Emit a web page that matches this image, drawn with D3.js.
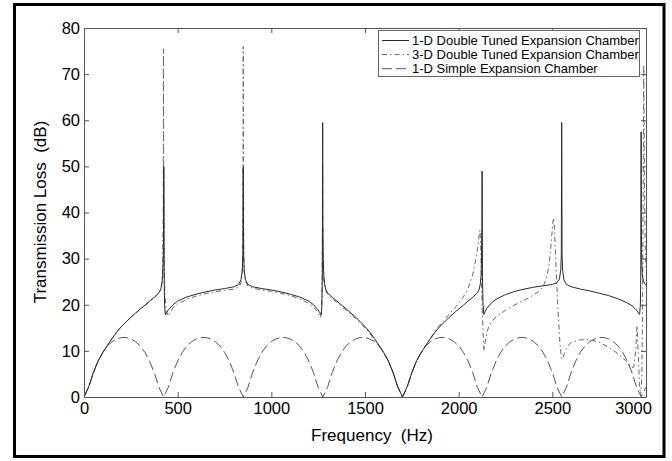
<!DOCTYPE html>
<html>
<head>
<meta charset="utf-8">
<script src="https://cdn.jsdelivr.net/npm/d3@7"></script>
<style>
  body { margin: 0; background: #fff; }
  svg { display: block; }
  text { font-family: "Liberation Sans", Arial, sans-serif; fill: #000; }
</style>
</head>
<body>
<svg id="chart" width="672" height="461"></svg>
<script>
// tick labels
const xTicks = [0, 500, 1000, 1500, 2000, 2500, 3000];
const yTicks = [0, 10, 20, 30, 40, 50, 60, 70, 80];

const seriesNames = [
  "1-D Double Tuned Expansion Chamber",
  "3-D Double Tuned Expansion Chamber",
  "1-D Simple Expansion Chamber"
];

// 1-D double tuned (solid)
const freqDT1 = [0,25,50,75,100,125,150,175,200,225,250,275,300,325,350,375,400,410,416,420,423,425,426,427,428,430,434,440,450,475,500,550,600,650,700,750,800,825,838,845,848,850,852,855,862,875,900,950,1000,1050,1100,1150,1200,1225,1250,1260,1266,1270,1272,1273,1274,1275,1277,1280,1284,1290,1300,1325,1350,1375,1400,1425,1450,1475,1500,1525,1550,1575,1600,1625,1650,1675,1700,
  1725,1750,1775,1800,1825,1850,1875,1900,1925,1950,1975,2000,2025,2050,2075,2100,2110,2116,2120,2122,2124,2125,2126,2127,2130,2134,2140,2150,2175,2200,2250,2300,2350,2400,2450,2500,2525,2538,2545,2548,2550,2552,2555,2562,2575,2600,2650,2700,2750,2800,2850,2900,2925,2950,2960,2966,2970,2972,2973,2974,2975,2977,2980,2986,2993,3000];
const tlDT1 = [0,2.2,5.3,7.8,9.6,11.2,12.7,14.1,15.3,16.3,17.3,18.2,19.1,19.9,20.8,21.6,22.6,23.4,24.6,26.5,30,38,50,40,26,20,17.8,18.2,18.9,20.0,20.8,21.7,22.3,22.8,23.2,23.5,23.9,24.4,25.4,27.5,31,50,31,27.5,25.4,24.4,23.9,23.5,23.2,22.8,22.3,21.7,20.8,20.0,18.9,18.2,17.8,20,26,40,59.5,38,30,26.5,24.6,23.4,22.6,21.6,20.8,19.9,19.1,18.2,17.3,16.3,15.3,14.1,12.7,11.2,9.6,7.8,5.3,2.2,0,
  2.2,5.3,7.8,9.6,11.2,12.7,14.1,15.3,16.3,17.3,18.2,19.1,19.9,20.8,21.6,22.6,23.4,24.6,26.5,30,38,49,40,26,20,17.9,18.4,19.2,20.4,21.2,22.2,22.9,23.4,23.8,24.1,24.4,24.8,25.6,27.5,31,59.5,31,27.5,25.4,24.4,23.9,23.4,23.0,22.5,22.0,21.3,20.4,19.8,18.8,18.2,17.9,20,26,40,57.5,38,30,26.5,25.2,24.6,24.2];

// 3-D double tuned (dash-dot)
const freqDT3 = [0,25,50,75,100,125,150,175,200,225,250,275,300,325,350,375,400,410,416,420,423,424,425,426,428,432,440,450,456,475,500,550,600,650,700,750,800,825,838,845,848,849,850,851,853,856,863,875,900,950,1000,1050,1100,1150,1200,1225,1250,1258,1263,1268,1271,1273,1274,1275,1277,1280,1285,1290,1300,1325,1350,1375,1400,1425,1450,1475,1500,1525,1550,1575,1600,1625,1650,1675,1700,
  1725,1750,1775,1800,1825,1850,1875,1900,1925,1950,1975,2000,2025,2050,2075,2090,2100,2108,2113,2117,2121,2125,2130,2135,2140,2150,2160,2175,2200,2250,2300,2350,2400,2425,2450,2465,2480,2490,2497,2503,2508,2512,2520,2530,2540,2548,2555,2565,2580,2600,2650,2700,2750,2800,2850,2900,2925,2935,2945,2952,2958,2965,2972,2978,2982,2985,2988,2992,2996,3000];
const tlDT3 = [0,2.2,5.3,7.8,9.6,11.2,12.7,14.1,15.3,16.3,17.2,18.1,19.0,19.8,20.7,21.5,22.5,23.3,24.8,28,40,75.5,60,40,28,22,18.5,17.5,18,19.3,20.2,21.2,21.9,22.4,22.8,23.1,23.4,23.8,24.8,27,32,50,76,50,31,27,25.0,24.0,23.6,23.2,22.9,22.5,22.0,21.3,20.3,19.5,18.3,17.6,17.2,19,24,35,50,35,28,25.5,24.1,23.2,22.3,21.3,20.5,19.6,18.8,17.9,17.0,16.0,15.0,13.8,12.5,11.0,9.5,7.7,5.2,2.2,0,
  2.2,5.3,7.8,9.6,11.2,12.8,14.3,15.6,16.8,18.0,19.1,20.3,21.7,23.5,26.5,29.5,32,34.5,36.2,34,27,20,14,10,11.5,13.8,15.2,16.3,17.4,18.8,20.0,21.0,22.1,22.8,23.9,25.3,28,31.5,35,38,38.8,36,28,19,12,8.5,8.2,9.5,11.0,11.8,12.4,12.4,11.9,10.8,9.4,7.6,6.4,6.5,10,15.5,10,3,0.3,5,20,45,72,45,32,28];

// 1-D simple expansion chamber (dashed)
const freqSimple = [0,25,50,75,100,125,150,175,200,225,250,275,300,325,350,375,400,425,450,475,500,525,550,575,600,625,650,675,700,725,750,775,800,825,850,875,900,925,950,975,1000,1025,1050,1075,1100,1125,1150,1175,1200,1225,1250,1275,1300,1325,1350,1375,1400,1425,1450,1475,1500,1525,1550,1575,1600,1625,1650,1675,1700,1725,1750,1775,1800,1825,1850,1875,1900,1925,1950,1975,2000,2025,2050,2075,2100,2125,2150,2175,2200,2225,2250,2275,2300,2325,2350,2375,2400,2425,2450,2475,2500,2525,2550,2575,2600,2625,2650,2675,2700,2725,2750,2775,2800,2825,2850,2875,2900,2925,2950,2975,3000];
const tlSimple = [0,2.1,5.3,7.8,9.7,11.1,12.0,12.6,12.9,12.9,12.6,12.0,11.1,9.7,7.8,5.3,2.1,
  0,2.1,5.3,7.8,9.7,11.1,12.0,12.6,12.9,12.9,12.6,12.0,11.1,9.7,7.8,5.3,2.1,
  0,2.1,5.3,7.8,9.7,11.1,12.0,12.6,12.9,12.9,12.6,12.0,11.1,9.7,7.8,5.3,2.1,
  0,2.1,5.3,7.8,9.7,11.1,12.0,12.6,12.9,12.9,12.6,12.0,11.1,9.7,7.8,5.3,2.1,
  0,2.1,5.3,7.8,9.7,11.1,12.0,12.6,12.9,12.9,12.6,12.0,11.1,9.7,7.8,5.3,2.1,
  0,2.1,5.3,7.8,9.7,11.1,12.0,12.6,12.9,12.9,12.6,12.0,11.1,9.7,7.8,5.3,2.1,
  0,2.1,5.3,7.8,9.7,11.1,12.0,12.6,12.9,12.9,12.6,12.0,11.1,9.7,7.8,5.3,2.1,
  0,2.1];

const svg = d3.select("#chart");

// figure border
svg.append("rect")
  .attr("x", 14.5).attr("y", 4.5)
  .attr("width", 649.5).attr("height", 452)
  .attr("fill", "none").attr("stroke", "#000").attr("stroke-width", 3);

const x = d3.scaleLinear().domain([0, 3000]).range([84, 646]);
const y = d3.scaleLinear().domain([0, 80]).range([397, 28]);

svg.append("clipPath").attr("id", "clip")
  .append("rect").attr("x", 84).attr("y", 28).attr("width", 562).attr("height", 369);

const plot = svg.append("g").attr("clip-path", "url(#clip)");

const line = d3.line().x(d => x(d[0])).y(d => y(d[1]));

const series = [
  { name: seriesNames[0], pts: d3.zip(freqDT1, tlDT1), color: "#2a2a2a", dash: null },
  { name: seriesNames[1], pts: d3.zip(freqDT3, tlDT3), color: "#666", dash: "5,3,1.5,3" },
  { name: seriesNames[2], pts: d3.zip(freqSimple, tlSimple), color: "#555", dash: "10,4" }
];

// draw dashed first, solid on top
[series[2], series[1], series[0]].forEach(s => {
  plot.append("path")
    .datum(s.pts)
    .attr("d", line)
    .attr("fill", "none")
    .attr("stroke", s.color)
    .attr("stroke-width", 1)
    .attr("stroke-dasharray", s.dash);
});

// axes (ticks inside, box on)
const axisColor = "#555";
const fmt = d3.format("d");
const gx = svg.append("g").attr("transform", "translate(0,397)")
  .call(d3.axisBottom(x).tickValues(xTicks).tickFormat(fmt).tickSize(-5).tickSizeOuter(0).tickPadding(5));
svg.append("g").attr("transform", "translate(0,28)")
  .call(d3.axisTop(x).tickValues(xTicks).tickSize(-5).tickSizeOuter(0).tickFormat(""));
svg.append("g").attr("transform", "translate(84,0)")
  .call(d3.axisLeft(y).tickValues(yTicks).tickFormat(fmt).tickSize(-5).tickSizeOuter(0).tickPadding(4));
svg.append("g").attr("transform", "translate(646,0)")
  .call(d3.axisRight(y).tickValues(yTicks).tickSize(-5).tickSizeOuter(0).tickFormat(""));

svg.selectAll(".domain, .tick line").attr("stroke", axisColor);
svg.selectAll(".tick text").attr("font-size", 16.5).attr("fill", "#000")
  .style("font-family", '"Liberation Sans", Arial, sans-serif');
gx.selectAll(".tick text").filter(d => d === 3000).attr("dx", -13);

// axis titles
svg.append("text")
  .attr("x", 372).attr("y", 441)
  .attr("text-anchor", "middle").attr("font-size", 17)
  .style("white-space", "pre")
  .text("Frequency  (Hz)");
svg.append("text")
  .attr("transform", "translate(46,212) rotate(-90)")
  .attr("text-anchor", "middle").attr("font-size", 17)
  .style("white-space", "pre")
  .text("Transmission Loss  (dB)");

// legend
const lg = svg.append("g");
lg.append("rect")
  .attr("x", 378.5).attr("y", 30.5).attr("width", 261).attr("height", 46)
  .attr("fill", "#fff").attr("stroke", "#666").attr("stroke-width", 1);
series.forEach((s, i) => {
  const yy = 40.5 + i * 14.1;
  lg.append("line")
    .attr("x1", 382).attr("x2", 409).attr("y1", yy).attr("y2", yy)
    .attr("stroke", s.color).attr("stroke-width", 1)
    .attr("stroke-dasharray", s.dash);
  lg.append("text")
    .attr("x", 412).attr("y", yy + 4.2)
    .attr("font-size", 13)
    .text(s.name);
});
</script>
</body>
</html>
